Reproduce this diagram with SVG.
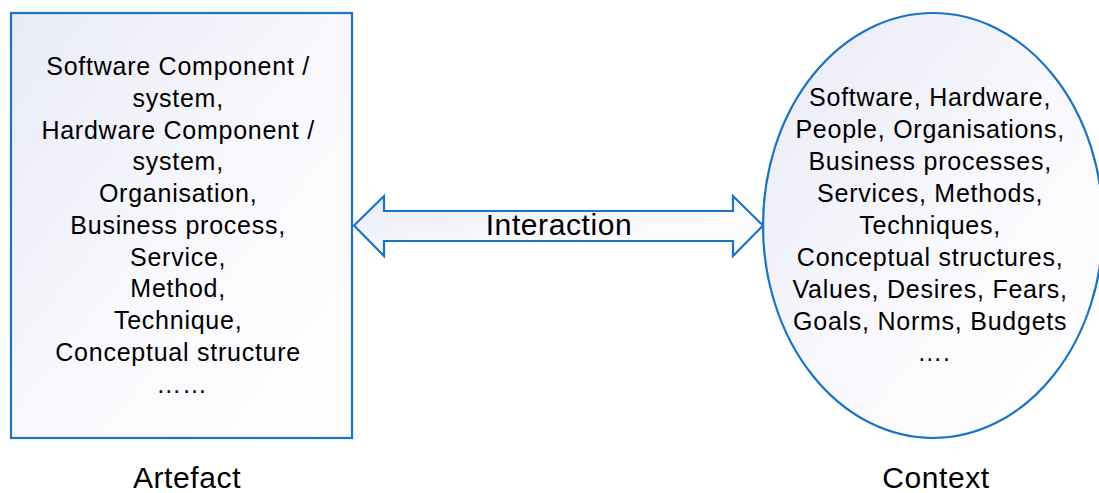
<svg xmlns="http://www.w3.org/2000/svg" width="1099" height="493" viewBox="0 0 1099 493">
<defs>
<linearGradient id="g" x1="0" y1="0" x2="1" y2="1">
<stop offset="0" stop-color="#e8eaf6"/>
<stop offset="0.55" stop-color="#f9f9fd"/>
<stop offset="1" stop-color="#ffffff"/>
</linearGradient>
<style>
.shape{fill:url(#g);stroke:#1a73c3;stroke-width:2.2}
.t{font-family:"Liberation Sans",Arial,sans-serif;font-size:25px;letter-spacing:0.75px;fill:#000;text-anchor:middle}
.big{font-family:"Liberation Sans",Arial,sans-serif;font-size:30px;letter-spacing:0.6px;fill:#000;text-anchor:middle}
</style>
</defs>
<rect width="1099" height="493" fill="#fff"/>
<g id="artefact">
<rect class="shape" x="11" y="13" width="341" height="425"/>
<text class="t" x="182" y="75">
<tspan x="182" y="75">Software Component /</tspan>
<tspan x="182" y="107">system,</tspan>
<tspan x="182" y="139">Hardware Component /</tspan>
<tspan x="182" y="170">system,</tspan>
<tspan x="182" y="202">Organisation,</tspan>
<tspan x="182" y="234">Business process,</tspan>
<tspan x="182" y="266">Service,</tspan>
<tspan x="182" y="297">Method,</tspan>
<tspan x="182" y="329">Technique,</tspan>
<tspan x="182" y="361">Conceptual structure</tspan>
<tspan x="182" y="393">……</tspan>
</text>
<text class="big" x="187" y="488">Artefact</text>
</g>
<g id="context">
<ellipse class="shape" cx="933" cy="225.5" rx="170" ry="212.5"/>
<text class="t" x="934" y="106">
<tspan x="934" y="106">Software, Hardware,</tspan>
<tspan x="934" y="138">People, Organisations,</tspan>
<tspan x="934" y="170">Business processes,</tspan>
<tspan x="934" y="202">Services, Methods,</tspan>
<tspan x="934" y="234">Techniques,</tspan>
<tspan x="934" y="266">Conceptual structures,</tspan>
<tspan x="934" y="298">Values, Desires, Fears,</tspan>
<tspan x="934" y="330">Goals, Norms, Budgets</tspan>
<tspan x="934" y="361">….</tspan>
</text>
<text class="big" x="936" y="488">Context</text>
</g>
<g id="connectors">
<g id="interaction">
<path class="shape" d="M354,225.5 L384,196 L384,211 L733,211 L733,196 L763,225.5 L733,256 L733,241 L384,241 L384,256 Z"/>
<text class="big" x="559" y="235">Interaction</text>
</g>
</g>
</svg>
